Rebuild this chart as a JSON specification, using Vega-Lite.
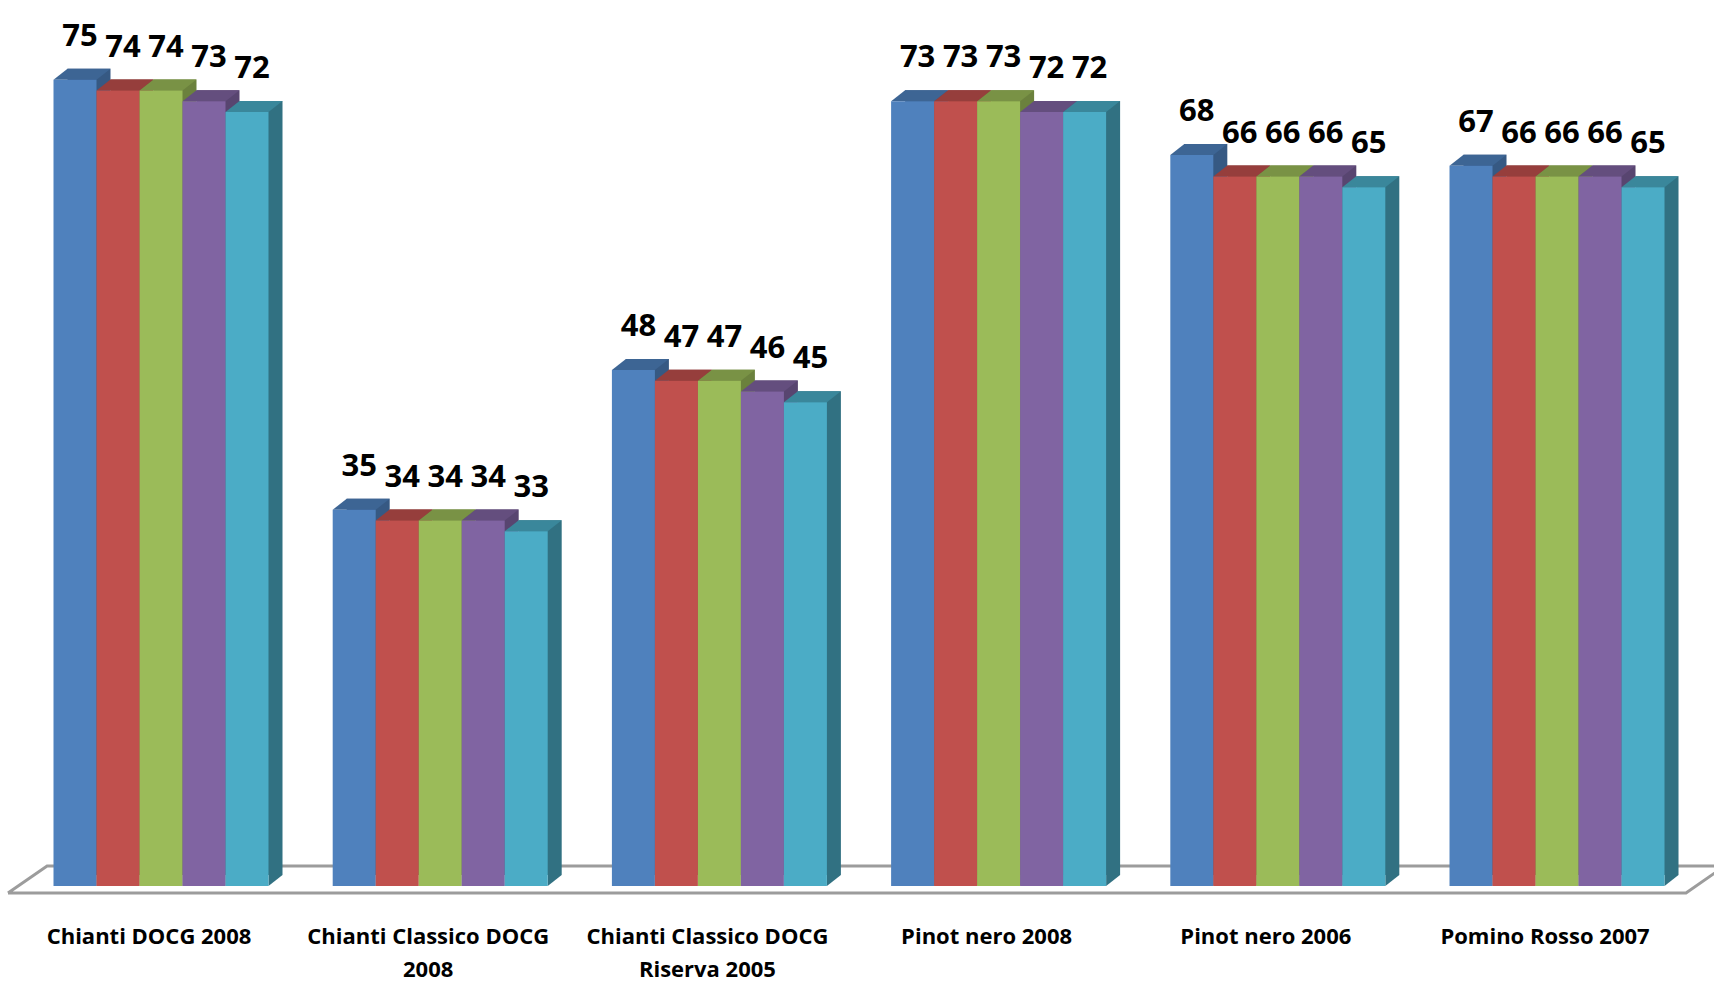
{
  "$schema": "https://vega.github.io/schema/vega-lite/v6.json",
  "width": 1714,
  "height": 900,
  "autosize": {"type": "none"},
  "padding": {"left": 0, "top": 0, "right": 0, "bottom": 81},
  "background": "#ffffff",
  "config": {"view": {"stroke": null}},
  "datasets": {
    "wines": [
      {"vino": "Chianti DOCG 2008", "serie": "Serie 1", "punteggio": 75},
      {"vino": "Chianti DOCG 2008", "serie": "Serie 2", "punteggio": 74},
      {"vino": "Chianti DOCG 2008", "serie": "Serie 3", "punteggio": 74},
      {"vino": "Chianti DOCG 2008", "serie": "Serie 4", "punteggio": 73},
      {"vino": "Chianti DOCG 2008", "serie": "Serie 5", "punteggio": 72},
      {"vino": "Chianti Classico DOCG 2008", "serie": "Serie 1", "punteggio": 35},
      {"vino": "Chianti Classico DOCG 2008", "serie": "Serie 2", "punteggio": 34},
      {"vino": "Chianti Classico DOCG 2008", "serie": "Serie 3", "punteggio": 34},
      {"vino": "Chianti Classico DOCG 2008", "serie": "Serie 4", "punteggio": 34},
      {"vino": "Chianti Classico DOCG 2008", "serie": "Serie 5", "punteggio": 33},
      {"vino": "Chianti Classico DOCG Riserva 2005", "serie": "Serie 1", "punteggio": 48},
      {"vino": "Chianti Classico DOCG Riserva 2005", "serie": "Serie 2", "punteggio": 47},
      {"vino": "Chianti Classico DOCG Riserva 2005", "serie": "Serie 3", "punteggio": 47},
      {"vino": "Chianti Classico DOCG Riserva 2005", "serie": "Serie 4", "punteggio": 46},
      {"vino": "Chianti Classico DOCG Riserva 2005", "serie": "Serie 5", "punteggio": 45},
      {"vino": "Pinot nero 2008", "serie": "Serie 1", "punteggio": 73},
      {"vino": "Pinot nero 2008", "serie": "Serie 2", "punteggio": 73},
      {"vino": "Pinot nero 2008", "serie": "Serie 3", "punteggio": 73},
      {"vino": "Pinot nero 2008", "serie": "Serie 4", "punteggio": 72},
      {"vino": "Pinot nero 2008", "serie": "Serie 5", "punteggio": 72},
      {"vino": "Pinot nero 2006", "serie": "Serie 1", "punteggio": 68},
      {"vino": "Pinot nero 2006", "serie": "Serie 2", "punteggio": 66},
      {"vino": "Pinot nero 2006", "serie": "Serie 3", "punteggio": 66},
      {"vino": "Pinot nero 2006", "serie": "Serie 4", "punteggio": 66},
      {"vino": "Pinot nero 2006", "serie": "Serie 5", "punteggio": 65},
      {"vino": "Pomino Rosso 2007", "serie": "Serie 1", "punteggio": 67},
      {"vino": "Pomino Rosso 2007", "serie": "Serie 2", "punteggio": 66},
      {"vino": "Pomino Rosso 2007", "serie": "Serie 3", "punteggio": 66},
      {"vino": "Pomino Rosso 2007", "serie": "Serie 4", "punteggio": 66},
      {"vino": "Pomino Rosso 2007", "serie": "Serie 5", "punteggio": 65}
    ],
    "pavimento": [
      {"k": 0, "u": -0.048, "h": -0.651},
      {"k": 1, "u": 5.962, "h": -0.651},
      {"k": 2, "u": 6.101, "h": 1.86},
      {"k": 3, "u": 0.092, "h": 1.86},
      {"k": 4, "u": -0.048, "h": -0.651}
    ]
  },
  "resolve": {"scale": {"x": "independent", "xOffset": "independent", "color": "independent"}},
  "layer": [
    {
      "data": {"name": "pavimento"},
      "mark": {"type": "line", "stroke": "#9c9c9c", "strokeWidth": 3},
      "encoding": {
        "x": {"field": "u", "type": "quantitative", "axis": null,
              "scale": {"domain": [0, 6], "range": [21.4, 1696.6], "zero": false, "nice": false}},
        "y": {"field": "h", "type": "quantitative", "axis": null,
              "scale": {"domain": [0, 82.42], "range": [886, 0], "zero": false, "nice": false}},
        "order": {"field": "k"}
      }
    },
    {
      "data": {"name": "wines"},
      "mark": {"type": "bar", "yOffset": -11, "y2Offset": -11},
      "encoding": {
        "x": {"field": "vino", "type": "nominal", "sort": null, "axis": null,
              "scale": {"type": "band", "range": [53.5, 1664.5], "paddingInner": 0.23, "paddingOuter": 0}},
        "xOffset": {"field": "serie", "type": "nominal",
                    "scale": {"type": "band", "range": [14, 229], "paddingInner": 0, "paddingOuter": 0}},
        "y": {"field": "punteggio", "type": "quantitative", "axis": null,
              "scale": {"domain": [0, 82.42], "range": [886, 0], "zero": false, "nice": false}},
        "y2": {"datum": 0},
        "color": {"field": "serie", "type": "nominal", "legend": null,
                  "scale": {"range": ["#365983", "#843735", "#6b813d", "#584570", "#317182"]}}
      }
    },
    {
      "data": {"name": "wines"},
      "mark": {"type": "point", "filled": true, "opacity": 1, "strokeWidth": 0, "size": 4,
               "shape": "M21.5,0 L35.5,-11 L21.5,-11 Z"},
      "encoding": {
        "x": {"field": "vino", "type": "nominal", "sort": null, "axis": null,
              "scale": {"type": "band", "range": [53.5, 1664.5], "paddingInner": 0.23, "paddingOuter": 0}},
        "xOffset": {"field": "serie", "type": "nominal",
                    "scale": {"type": "band", "range": [0, 215], "paddingInner": 0, "paddingOuter": 0}},
        "y": {"datum": 0, "type": "quantitative", "axis": null,
              "scale": {"domain": [0, 82.42], "range": [886, 0], "zero": false, "nice": false}},
        "color": {"field": "serie", "type": "nominal", "legend": null,
                  "scale": {"range": ["#365983", "#843735", "#6b813d", "#584570", "#317182"]}}
      }
    },
    {
      "data": {"name": "wines"},
      "mark": {"type": "point", "filled": true, "opacity": 1, "strokeWidth": 0, "size": 4,
               "shape": "M-21.5,0 L21.5,0 L35.5,-11 L-7.5,-11 Z"},
      "encoding": {
        "x": {"field": "vino", "type": "nominal", "sort": null, "axis": null,
              "scale": {"type": "band", "range": [53.5, 1664.5], "paddingInner": 0.23, "paddingOuter": 0}},
        "xOffset": {"field": "serie", "type": "nominal",
                    "scale": {"type": "band", "range": [0, 215], "paddingInner": 0, "paddingOuter": 0}},
        "y": {"field": "punteggio", "type": "quantitative", "axis": null,
              "scale": {"domain": [0, 82.42], "range": [886, 0], "zero": false, "nice": false}},
        "color": {"field": "serie", "type": "nominal", "legend": null,
                  "scale": {"range": ["#3d6594", "#963e3c", "#799245", "#644e7e", "#3a879b"]}}
      }
    },
    {
      "data": {"name": "wines"},
      "mark": {"type": "bar"},
      "encoding": {
        "x": {"field": "vino", "type": "nominal", "sort": null, "title": null,
              "scale": {"type": "band", "range": [53.5, 1664.5], "paddingInner": 0.23, "paddingOuter": 0},
              "axis": {"domain": false, "ticks": false, "tickSize": 0, "labelPadding": 26, "labelOffset": -12,
                       "labelAngle": 0, "labelAlign": "center", "labelBaseline": "top",
                       "labelFont": "Open Sans", "labelFontWeight": "bold", "labelFontSize": 22,
                       "labelColor": "#000000", "labelLineHeight": 33, "labelLimit": 0,
                       "labelExpr": "indexof(datum.label, 'Classico') >= 0 ? [substring(datum.label, 0, indexof(datum.label, 'DOCG') + 4), substring(datum.label, indexof(datum.label, 'DOCG') + 5)] : datum.label"}},
        "xOffset": {"field": "serie", "type": "nominal",
                    "scale": {"type": "band", "range": [0, 215], "paddingInner": 0, "paddingOuter": 0}},
        "y": {"field": "punteggio", "type": "quantitative", "axis": null,
              "scale": {"domain": [0, 82.42], "range": [886, 0], "zero": false, "nice": false}},
        "color": {"field": "serie", "type": "nominal", "legend": null,
                  "scale": {"range": ["#4f81bd", "#c0504d", "#9bbb59", "#8064a2", "#4bacc6"]}}
      }
    },
    {
      "data": {"name": "wines"},
      "mark": {"type": "text", "font": "Open Sans", "fontWeight": "bold", "fontSize": 31,
               "color": "#000000", "baseline": "middle", "align": "center", "dy": -43, "dx": 5},
      "encoding": {
        "x": {"field": "vino", "type": "nominal", "sort": null, "axis": null,
              "scale": {"type": "band", "range": [53.5, 1664.5], "paddingInner": 0.23, "paddingOuter": 0}},
        "xOffset": {"field": "serie", "type": "nominal",
                    "scale": {"type": "band", "range": [0, 215], "paddingInner": 0, "paddingOuter": 0}},
        "y": {"field": "punteggio", "type": "quantitative", "axis": null,
              "scale": {"domain": [0, 82.42], "range": [886, 0], "zero": false, "nice": false}},
        "text": {"field": "punteggio", "type": "quantitative"}
      }
    }
  ]
}
